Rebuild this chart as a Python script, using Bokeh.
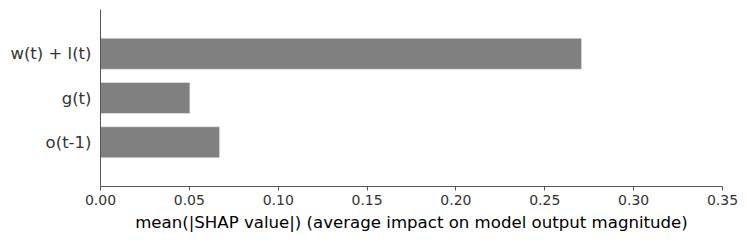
from bokeh.plotting import figure
from bokeh.models import Range1d, FixedTicker
from bokeh.embed import file_html
from bokeh.resources import INLINE

features = ["o(t-1)", "g(t)", "w(t) + l(t)"]
values = [0.067, 0.0503, 0.2707]
xticks = [0.0, 0.05, 0.10, 0.15, 0.20, 0.25, 0.30, 0.35]

ypos = list(range(len(features)))

p = figure(width=739, height=234, output_backend="svg", toolbar_location=None,
           x_range=Range1d(0, 0.35), y_range=Range1d(-1, 3),
           min_border_left=100, min_border_right=17, min_border_top=9, min_border_bottom=47)
p.hbar(y=ypos, right=values, left=0, height=0.7, fill_color="#808080", line_color="#f0f0f0", line_width=0.5)

p.outline_line_color = None
p.grid.visible = False

p.xaxis.ticker = FixedTicker(ticks=xticks)
p.xaxis.major_label_overrides = {t: f"{t:.2f}" for t in xticks}
p.xaxis.minor_tick_line_color = None
p.xaxis.major_tick_in = 0
p.xaxis.major_tick_out = 4
p.xaxis.axis_line_color = "#555555"
p.xaxis.major_tick_line_color = "#555555"
p.xaxis.major_label_text_font = "DejaVu Sans"
p.xaxis.major_label_text_font_size = "14px"
p.xaxis.major_label_text_color = "#333333"
p.xaxis.major_label_standoff = 4
p.xaxis.axis_label = "mean(|SHAP value|) (average impact on model output magnitude)"
p.xaxis.axis_label_text_font = "DejaVu Sans"
p.xaxis.axis_label_text_font_size = "16.6px"
p.xaxis.axis_label_text_font_style = "normal"
p.xaxis.axis_label_text_color = "#000000"
p.xaxis.axis_label_standoff = 5

p.yaxis.ticker = FixedTicker(ticks=ypos)
p.yaxis.major_label_overrides = {i: f for i, f in enumerate(features)}
p.yaxis.minor_tick_line_color = None
p.yaxis.major_tick_line_color = None
p.yaxis.axis_line_color = "#555555"
p.yaxis.major_label_text_font = "DejaVu Sans"
p.yaxis.major_label_text_font_size = "16.5px"
p.yaxis.major_label_text_color = "#333333"
p.yaxis.major_label_standoff = 3

open("out.html", "w").write(file_html(p, INLINE))
